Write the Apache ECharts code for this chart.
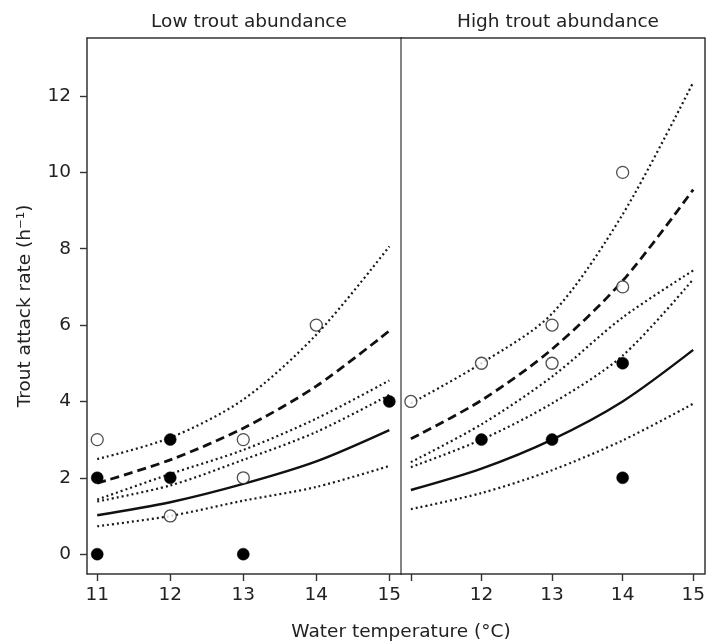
<!DOCTYPE html>
<html>
<head>
<meta charset="utf-8">
<script src="https://cdn.jsdelivr.net/npm/echarts@6/dist/echarts.min.js"></script>
<style>
  html, body { margin: 0; padding: 0; background: #fff; }
  #chart { width: 708px; height: 643px; }
</style>
</head>
<body>
<div id="chart"></div>
<script>
// water temperature (°C) at which the curves are read
const temps = [11, 12, 13, 14, 15];
const xTicks = [11, 12, 13, 14, 15];
const xLabelsHigh = [12, 13, 14, 15];
const yTicks = [0, 2, 4, 6, 8, 10, 12];

// low trout abundance
const lowFit = [1.02, 1.36, 1.84, 2.43, 3.25];
const lowFitLo = [0.73, 1.0, 1.4, 1.76, 2.31];
const lowFitHi = [1.38, 1.8, 2.47, 3.2, 4.17];
const lowDash = [1.86, 2.47, 3.3, 4.4, 5.85];
const lowDashLo = [1.43, 2.1, 2.73, 3.55, 4.55];
const lowDashHi = [2.49, 3.05, 4.05, 5.75, 8.06];
const lowOpen = [[11, 3], [12, 1], [13, 3], [13, 2], [14, 6]];
const lowFilled = [[11, 2], [11, 0], [12, 3], [12, 2], [13, 0], [15, 4]];

// high trout abundance
const highFit = [1.68, 2.24, 3.0, 4.0, 5.35];
const highFitLo = [1.18, 1.6, 2.2, 2.98, 3.94];
const highFitHi = [2.28, 3.0, 3.95, 5.2, 7.2];
const highDash = [3.02, 4.03, 5.37, 7.16, 9.55];
const highDashLo = [2.41, 3.4, 4.65, 6.2, 7.43];
const highDashHi = [3.95, 5.0, 6.3, 8.9, 12.36];
const highOpen = [[11, 4], [12, 5], [13, 6], [13, 5], [14, 10], [14, 7]];
const highFilled = [[12, 3], [13, 3], [14, 5], [14, 2]];

const FONT = 'DejaVu Sans';
const INK = '#222';
const AXIS = '#333';
const XMIN = 10.86, XMAX = 15.16, YMIN = -0.52, YMAX = 13.52;

const pair = ys => temps.map((t, i) => [t, ys[i]]);

function curve(ys, kind, g) {
  let lineStyle = { color: '#111', width: 2.4, type: 'solid' };
  if (kind === 'dash') lineStyle = { color: '#111', width: 2.8, type: [9, 5] };
  if (kind === 'dot') lineStyle = { color: '#1a1a1a', width: 2.2, type: [2, 3] };
  return {
    type: 'line', xAxisIndex: g, yAxisIndex: g,
    data: pair(ys), showSymbol: false, symbol: 'none',
    smooth: 0.3,
    lineStyle: lineStyle, silent: true, z: 2
  };
}

function points(data, open, g) {
  return {
    type: 'scatter', xAxisIndex: g, yAxisIndex: g,
    data: data, symbol: 'circle', symbolSize: 12,
    itemStyle: open
      ? { color: '#fff', borderColor: '#222', borderWidth: 1.3 }
      : { color: '#000', borderColor: '#000', borderWidth: 0.5, opacity: 1 },
    z: 5
  };
}

function plainAxis(extra) {
  return Object.assign({
    type: 'value', splitLine: { show: false },
    axisTick: { show: false }, axisLabel: { show: false },
    axisLine: { show: true, onZero: false, lineStyle: { color: AXIS, width: 1.5 } }
  }, extra);
}

const labelStyle = { fontFamily: FONT, fontSize: 18.5, color: INK };
const tickStyle = { show: true, length: 7, lineStyle: { color: AXIS, width: 1.4 } };

let chart = echarts.init(document.getElementById('chart'));
let option = {
  animation: false,
  backgroundColor: '#fff',
  title: [
    { text: 'Low trout abundance', left: 244, top: 8, textAlign: 'center',
      textStyle: { fontFamily: FONT, fontSize: 18.5, fontWeight: 'normal', color: INK } },
    { text: 'High trout abundance', left: 553, top: 8, textAlign: 'center',
      textStyle: { fontFamily: FONT, fontSize: 18.5, fontWeight: 'normal', color: INK } },
    { text: 'Water temperature (°C)', left: 396, top: 618, textAlign: 'center',
      textStyle: { fontFamily: FONT, fontSize: 18.5, fontWeight: 'normal', color: INK } }
  ],
  grid: [
    { left: 87, top: 38, width: 314, height: 536 },
    { left: 401, top: 38, width: 305, height: 536 }
  ],
  xAxis: [
    plainAxis({
      gridIndex: 0, position: 'bottom', min: XMIN, max: XMAX,
      axisTick: { ...tickStyle, customValues: xTicks },
      axisLabel: { show: true, customValues: xTicks, margin: 12, ...labelStyle }
    }),
    plainAxis({
      gridIndex: 1, position: 'bottom', min: XMIN, max: XMAX,
      axisTick: { ...tickStyle, customValues: xTicks },
      axisLabel: { show: true, customValues: xLabelsHigh, margin: 12, ...labelStyle }
    }),
    plainAxis({ gridIndex: 0, position: 'top', min: XMIN, max: XMAX }),
    plainAxis({ gridIndex: 1, position: 'top', min: XMIN, max: XMAX })
  ],
  yAxis: [
    plainAxis({
      gridIndex: 0, position: 'left', min: YMIN, max: YMAX,
      axisTick: { ...tickStyle, customValues: yTicks },
      axisLabel: { show: true, customValues: yTicks, margin: 16, ...labelStyle },
      name: 'Trout attack rate (h⁻¹)', nameLocation: 'middle', nameGap: 52,
      nameTextStyle: { fontFamily: FONT, fontSize: 18.5, color: INK }
    }),
    plainAxis({
      gridIndex: 1, position: 'left', min: YMIN, max: YMAX,
      axisLine: { show: true, onZero: false, lineStyle: { color: '#777', width: 1.8 } }
    }),
    plainAxis({ gridIndex: 1, position: 'right', min: YMIN, max: YMAX })
  ],
  series: [
    curve(lowFitLo, 'dot', 0),
    curve(lowFitHi, 'dot', 0),
    curve(lowDashLo, 'dot', 0),
    curve(lowDashHi, 'dot', 0),
    curve(lowFit, 'solid', 0),
    curve(lowDash, 'dash', 0),
    points(lowOpen, true, 0),
    points(lowFilled, false, 0),
    curve(highFitLo, 'dot', 1),
    curve(highFitHi, 'dot', 1),
    curve(highDashLo, 'dot', 1),
    curve(highDashHi, 'dot', 1),
    curve(highFit, 'solid', 1),
    curve(highDash, 'dash', 1),
    points(highOpen, true, 1),
    points(highFilled, false, 1)
  ]
};
chart.setOption(option);
</script>
</body>
</html>
